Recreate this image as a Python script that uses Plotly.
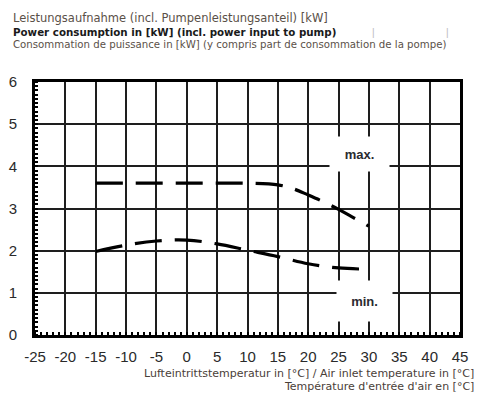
import plotly.graph_objects as go

# Data
max_x = [-15, -10, -5, 0, 5, 10, 15, 17.5, 20, 22.5, 25, 27.5, 30]
max_y = [3.6, 3.6, 3.6, 3.6, 3.6, 3.6, 3.56, 3.47, 3.32, 3.16, 2.98, 2.78, 2.58]
min_x = [-15, -10, -5, 0, 5, 10, 15, 20, 25, 30]
min_y = [1.98, 2.13, 2.23, 2.25, 2.16, 2.01, 1.86, 1.69, 1.59, 1.56]
x_ticks = [-25, -20, -15, -10, -5, 0, 5, 10, 15, 20, 25, 30, 35, 40, 45]
y_ticks = [0, 1, 2, 3, 4, 5, 6]

title_lines = [
    "Leistungsaufnahme (incl. Pumpenleistungsanteil) [kW]",
    "Power consumption in [kW] (incl. power input to pump)",
    "Consommation de puissance in [kW] (y compris part de consommation de la pompe)",
]
xtitle_lines = [
    "Lufteintrittstemperatur in [°C] / Air inlet temperature in [°C]",
    "Température d'entrée d'air en [°C]",
]

W, H = 477, 399
L, R, T, B = 34, 9, 82, 64
PW, PH = W - L - R, H - T - B


def px(x):
    return (x - L) / PW


def py(y):
    return (H - B - y) / PH


fig = go.Figure()
line_style = dict(color="black", width=3.2, dash="27px,13px", shape="spline")
fig.add_trace(go.Scatter(x=max_x, y=max_y, mode="lines", line=line_style, showlegend=False))
fig.add_trace(go.Scatter(x=min_x, y=min_y, mode="lines", line=line_style, showlegend=False))

tickfont = dict(family="Liberation Sans, Arial, sans-serif", size=15, color="#2a2a2a")
axis_common = dict(
    showgrid=True, gridcolor="#1e1e1e", gridwidth=2,
    showline=True, linecolor="black", linewidth=3, mirror=True,
    zeroline=False, ticks="", tickfont=tickfont,
)
fig.update_xaxes(
    range=[-25, 45], tickvals=x_ticks, ticktext=[str(v) for v in x_ticks],
    minor=dict(dtick=1, ticks="inside", ticklen=3, tickwidth=1.5, tickcolor="black", showgrid=False),
    ticklabelstandoff=6,
    **axis_common,
)
fig.update_yaxes(
    range=[0, 6], tickvals=y_ticks, ticktext=[str(v) for v in y_ticks],
    minor=dict(dtick=0.1, ticks="inside", ticklen=3, tickwidth=1.5, tickcolor="black", showgrid=False),
    ticklabelstandoff=12,
    **axis_common,
)

ann = []
tf = "Liberation Sans, Arial, sans-serif"
wf = "DejaVu Sans, sans-serif"
ys = [18, 32, 45]
sizes = [11.5, 10.3, 10.2]
for i, (txt, yy) in enumerate(zip(title_lines, ys)):
    ann.append(dict(
        text=("<b>%s</b>" % txt) if i == 1 else txt,
        xref="paper", yref="paper", x=px(10), y=py(yy), xanchor="left", yanchor="middle",
        showarrow=False, font=dict(family=wf, size=sizes[i], color="#1a1a1a" if i == 1 else "#5a5048"),
    ))
for xx in (380, 455):
    ann.append(dict(text="|", xref="paper", yref="paper", x=px(xx), y=py(32),
                    xanchor="center", yanchor="middle", showarrow=False,
                    font=dict(family=tf, size=10, color="#bbbbbb")))
for txt, yy in zip(xtitle_lines, [373, 386]):
    ann.append(dict(text=txt, xref="paper", yref="paper", x=px(484), y=py(yy),
                    xanchor="right", yanchor="middle", showarrow=False,
                    font=dict(family=wf, size=11, color="#4a4038")))

ann.append(dict(text="<b>max.</b>", x=28.5, y=4.29, xref="x", yref="y", showarrow=False,
                bgcolor="white", width=57, height=32, font=dict(family=tf, size=13, color="#2a2a30")))
ann.append(dict(text="<b>min.</b>", x=29.35, y=0.81, xref="x", yref="y", showarrow=False,
                bgcolor="white", width=53, height=38, font=dict(family=tf, size=13, color="#2a2a30")))

fig.update_layout(
    width=W, height=H, margin=dict(l=L, r=R, t=T, b=B),
    paper_bgcolor="white", plot_bgcolor="white",
    annotations=ann,
)
fig.write_html("out.html")
